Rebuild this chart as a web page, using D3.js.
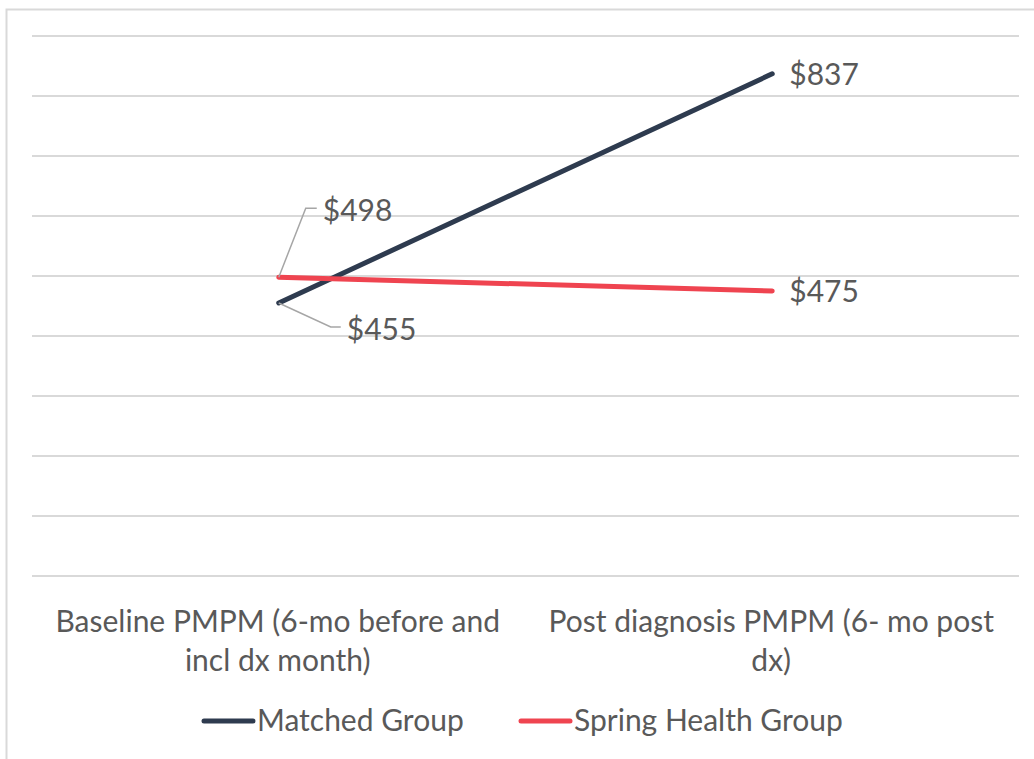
<!DOCTYPE html>
<html>
<head>
<meta charset="utf-8">
<script src="https://cdn.jsdelivr.net/npm/d3@7"></script>
<style>
  body { margin: 0; background: #fff; }
  text { font-family: Lato, "Open Sans", sans-serif; fill: #595959; }
</style>
</head>
<body>
<div class="lineChart"></div>
<script>
const categories = ["Baseline PMPM (6-mo before and|incl dx month)", "Post diagnosis PMPM (6- mo post|dx)"];
const matched = [455, 837];
const spring = [498, 475];
const seriesNames = ["Matched Group", "Spring Health Group"];
const yTicks = [0, 100, 200, 300, 400, 500, 600, 700, 800, 900];

const width = 1034, height = 759;
const margin = { top: 36, right: 15, bottom: 183, left: 32 };
const fontSize = 30;

const svg = d3.select(".lineChart").append("svg")
  .attr("width", width).attr("height", height);

// chart frame
svg.append("rect")
  .attr("x", 6.5).attr("y", 9.5)
  .attr("width", 1040).attr("height", 760)
  .attr("fill", "none").attr("stroke", "#d9d9d9").attr("stroke-width", 2);

const x = d3.scaleBand().domain(categories)
  .range([margin.left, width - margin.right]);
const y = d3.scaleLinear().domain([0, 900])
  .range([height - margin.bottom, margin.top]);

const cx = d => x(d) + x.bandwidth() / 2;

// gridlines
svg.append("g").selectAll("line").data(yTicks).enter().append("line")
  .attr("x1", margin.left).attr("x2", width - margin.right)
  .attr("y1", d => y(d)).attr("y2", d => y(d))
  .attr("stroke", "#d9d9d9").attr("stroke-width", 2);

// category labels
svg.append("g").selectAll("text").data(categories).enter().append("text")
  .attr("text-anchor", "middle")
  .attr("font-size", fontSize)
  .each(function(d) {
    const lines = d.split("|");
    d3.select(this).selectAll("tspan").data(lines).enter().append("tspan")
      .attr("x", cx(d) - 1)
      .attr("y", (l, i) => 632 + i * 39)
      .text(l => l);
  });

const line = d3.line().x((d, i) => cx(categories[i])).y(d => y(d));

const series = [
  { name: seriesNames[0], values: matched, color: "#2e3b4f" },
  { name: seriesNames[1], values: spring, color: "#ef4450" }
];

svg.append("g").selectAll("path").data(series).enter().append("path")
  .attr("d", d => line(d.values))
  .attr("fill", "none")
  .attr("stroke", d => d.color)
  .attr("stroke-width", 5)
  .attr("stroke-linecap", "round");

// leader lines for the left labels
const x0 = cx(categories[0]);
const leaders = [
  { v: spring[0], pts: [[0, 0], [27, -69], [38, -69]], tx: 44, ty: -56 },
  { v: matched[0], pts: [[0, 0], [52, 24], [62, 24]], tx: 68, ty: 37 }
];
svg.append("g").selectAll("path").data(leaders).enter().append("path")
  .attr("d", d => d3.line()(d.pts.map(p => [x0 + p[0], y(d.v) + p[1]])))
  .attr("fill", "none").attr("stroke", "#a6a6a6").attr("stroke-width", 1.5);

svg.append("g").selectAll("text").data(leaders).enter().append("text")
  .attr("x", d => x0 + d.tx)
  .attr("y", d => y(d.v) + d.ty)
  .attr("font-size", fontSize)
  .text(d => "$" + d.v);

// right-hand labels
const x1 = cx(categories[1]);
svg.append("g").selectAll("text").data([matched[1], spring[1]]).enter().append("text")
  .attr("x", x1 + 17)
  .attr("y", d => y(d) + 11)
  .attr("font-size", fontSize)
  .text(d => "$" + d);

// legend
const legendX = [204, 521];
const lg = svg.append("g").selectAll("g").data(series).enter().append("g")
  .attr("transform", (d, i) => "translate(" + legendX[i] + ",721)");
lg.append("line")
  .attr("x1", 0).attr("x2", 49)
  .attr("stroke", d => d.color).attr("stroke-width", 5)
  .attr("stroke-linecap", "round");
lg.append("text")
  .attr("x", 53).attr("y", 10)
  .attr("font-size", fontSize)
  .text(d => d.name);
</script>
</body>
</html>
